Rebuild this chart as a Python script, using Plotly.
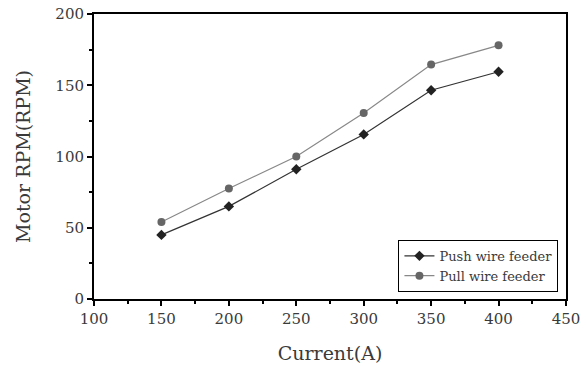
import plotly.graph_objects as go

current = [150, 200, 250, 300, 350, 400]
push_rpm = [45, 65, 91, 115.5, 146.5, 159.5]
pull_rpm = [54, 77.5, 100, 130.5, 164.5, 178]
x_ticks = [100, 150, 200, 250, 300, 350, 400, 450]
y_ticks = [0, 50, 100, 150, 200]

font_family = "DejaVu Serif, Liberation Serif, serif"
text_color = "#3a3a3a"

fig = go.Figure()
fig.add_trace(go.Scatter(
    x=current, y=push_rpm, name="Push wire feeder", mode="lines+markers",
    line=dict(color="#333333", width=1.2),
    marker=dict(symbol="diamond", size=8, color="#222222")))
fig.add_trace(go.Scatter(
    x=current, y=pull_rpm, name="Pull wire feeder", mode="lines+markers",
    line=dict(color="#888888", width=1.2),
    marker=dict(symbol="circle", size=8, color="#666666")))

axis_common = dict(
    showline=True, linecolor="black", linewidth=2, mirror=True,
    ticks="outside", ticklen=5, tickwidth=1.5, tickcolor="black",
    showgrid=False, zeroline=False, automargin=False,
    tickfont=dict(family=font_family, size=15, color=text_color),
)

fig.update_xaxes(range=[100, 450], tickvals=x_ticks, **axis_common,
                 minor=dict(ticks="outside", ticklen=3, tickwidth=1.5, tickcolor="black", dtick=25, tick0=100),
                 title=dict(text="Current(A)", font=dict(family=font_family, size=19, color=text_color), standoff=20))
fig.update_yaxes(range=[0, 200], tickvals=y_ticks, **axis_common,
                 minor=dict(ticks="outside", ticklen=3, tickwidth=1.5, tickcolor="black", dtick=25, tick0=0),
                 title=dict(text="Motor RPM(RPM)", font=dict(family=font_family, size=19, color=text_color), standoff=20))

fig.update_layout(
    width=583, height=365,
    margin=dict(l=94, r=17, t=14, b=66),
    plot_bgcolor="white", paper_bgcolor="white",
    showlegend=True,
    legend=dict(x=0.645, y=0.025, xanchor="left", yanchor="bottom",
                bordercolor="black", borderwidth=1, bgcolor="white",
                font=dict(family=font_family, size=13, color=text_color),
                itemwidth=30, tracegroupgap=0),
)

fig.write_html("out.html")
